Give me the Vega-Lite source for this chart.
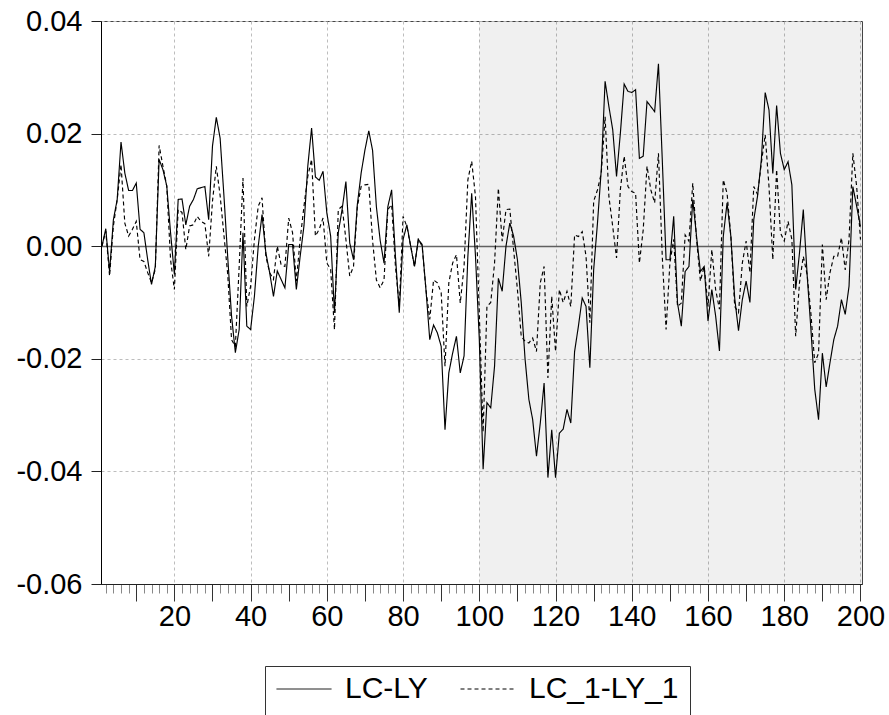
{
  "$schema": "https://vega.github.io/schema/vega-lite/v6.json",
  "width": 761,
  "height": 563,
  "autosize": {"type": "none"},
  "padding": {"left": 101, "top": 21, "right": 27, "bottom": 131},
  "background": "white",
  "config": {
    "view": {"stroke": "#444", "strokeWidth": 1},
    "font": "Liberation Sans"
  },
  "layer": [
    {
      "data": {"values": [{}]},
      "mark": {"type": "rect", "fill": "#000", "opacity": 0.06},
      "encoding": {
        "x": {
          "datum": 100, "type": "quantitative",
          "scale": {"domain": [0.75, 200.4], "nice": false, "zero": false},
          "axis": {
            "title": null,
            "values": [2,4,6,8,10,12,14,16,18,20,22,24,26,28,30,32,34,36,38,40,42,44,46,48,50,52,54,56,58,60,62,64,66,68,70,72,74,76,78,80,82,84,86,88,90,92,94,96,98,100,102,104,106,108,110,112,114,116,118,120,122,124,126,128,130,132,134,136,138,140,142,144,146,148,150,152,154,156,158,160,162,164,166,168,170,172,174,176,178,180,182,184,186,188,190,192,194,196,198,200],
            "labelExpr": "datum.value % 20 === 0 ? datum.label : ''",
            "labelFontSize": 29,
            "labelFont": "Liberation Sans",
            "labelColor": "#000",
            "labelPadding": 1,
            "labelFlush": false,
            "labelOverlap": false,
            "labelBound": false,
            "tickSize": {"condition": {"test": "datum.value % 10 === 0", "value": 17}, "value": 9},
            "tickColor": {"condition": {"test": "datum.value % 10 === 0", "value": "#333"}, "value": "#888"},
            "domainColor": "#222",
            "grid": true,
            "gridColor": "#bdbdbd",
            "gridDash": [3, 3],
            "gridOpacity": {"condition": {"test": "datum.value % 20 === 0", "value": 1}, "value": 0}
          }
        },
        "x2": {"datum": 200.4}
      }
    },
    {
      "data": {"values": [
{"t":1,"a":0.0,"b":0.0},{"t":2,"a":0.0031,"b":0.0027},{"t":3,"a":-0.0045,"b":-0.0053},{"t":4,"a":0.0047,"b":0.0036},{"t":5,"a":0.0083,"b":0.0083},
{"t":6,"a":0.0185,"b":0.0145},{"t":7,"a":0.013,"b":0.0041},{"t":8,"a":0.0099,"b":0.0018},{"t":9,"a":0.0099,"b":0.003},{"t":10,"a":0.0112,"b":0.0044},
{"t":11,"a":0.003,"b":-0.0024},{"t":12,"a":0.0024,"b":-0.0027},{"t":13,"a":-0.0024,"b":-0.0047},{"t":14,"a":-0.0068,"b":-0.0065},{"t":15,"a":-0.0036,"b":-0.0041},
{"t":16,"a":0.0154,"b":0.0179},{"t":17,"a":0.0136,"b":0.0142},{"t":18,"a":0.0107,"b":0.0107},{"t":19,"a":0.0024,"b":-0.0024},{"t":20,"a":-0.005,"b":-0.0077},
{"t":21,"a":0.0083,"b":0.0065},{"t":22,"a":0.0084,"b":0.006},{"t":23,"a":0.0038,"b":-0.0006},{"t":24,"a":0.0071,"b":0.0036},{"t":25,"a":0.0083,"b":0.0038},
{"t":26,"a":0.0102,"b":0.0053},{"t":27,"a":0.0104,"b":0.0044},{"t":28,"a":0.0106,"b":0.004},{"t":29,"a":0.0047,"b":-0.0018},{"t":30,"a":0.0178,"b":0.008},
{"t":31,"a":0.0229,"b":0.0142},{"t":32,"a":0.0192,"b":0.009},{"t":33,"a":0.009,"b":0.002},{"t":34,"a":-0.002,"b":-0.005},{"t":35,"a":-0.0124,"b":-0.0166},
{"t":36,"a":-0.0189,"b":-0.0178},{"t":37,"a":-0.0148,"b":-0.0036},{"t":38,"a":0.0024,"b":0.0121},{"t":39,"a":-0.0142,"b":-0.0107},{"t":40,"a":-0.0148,"b":-0.0071},
{"t":41,"a":-0.0089,"b":0.0012},{"t":42,"a":0.0,"b":0.0071},{"t":43,"a":0.0056,"b":0.0086},{"t":44,"a":-0.0012,"b":-0.0018},{"t":45,"a":-0.0047,"b":-0.0047},
{"t":46,"a":-0.0089,"b":-0.0059},{"t":47,"a":-0.0044,"b":0.0},{"t":48,"a":-0.0059,"b":-0.0033},{"t":49,"a":-0.0074,"b":-0.0036},{"t":50,"a":0.0003,"b":0.005},
{"t":51,"a":0.0003,"b":0.0024},{"t":52,"a":-0.0077,"b":-0.0062},{"t":53,"a":-0.0018,"b":0.0012},{"t":54,"a":0.0036,"b":0.0071},{"t":55,"a":0.0142,"b":0.0124},
{"t":56,"a":0.021,"b":0.0154},{"t":57,"a":0.0123,"b":0.0018},{"t":58,"a":0.0117,"b":0.003},{"t":59,"a":0.0133,"b":0.005},{"t":60,"a":0.0059,"b":-0.003},
{"t":61,"a":0.0018,"b":-0.0041},{"t":62,"a":-0.0118,"b":-0.0148},{"t":63,"a":0.0024,"b":0.0065},{"t":64,"a":0.0065,"b":0.0071},{"t":65,"a":0.0115,"b":0.0012},
{"t":66,"a":0.0006,"b":-0.0053},{"t":67,"a":-0.0024,"b":-0.0036},{"t":68,"a":0.0074,"b":0.007},{"t":69,"a":0.013,"b":0.0106},{"t":70,"a":0.0171,"b":0.0109},
{"t":71,"a":0.0205,"b":0.011},{"t":72,"a":0.017,"b":0.001},{"t":73,"a":0.007,"b":-0.006},{"t":74,"a":0.001,"b":-0.0074},{"t":75,"a":-0.003,"b":-0.006},
{"t":76,"a":0.007,"b":0.0065},{"t":77,"a":0.01,"b":0.0074},{"t":78,"a":-0.0018,"b":-0.0036},{"t":79,"a":-0.0118,"b":-0.0107},{"t":80,"a":0.0012,"b":0.0053},
{"t":81,"a":0.0038,"b":0.0035},{"t":82,"a":0.0,"b":0.0},{"t":83,"a":-0.0036,"b":-0.0036},{"t":84,"a":0.0012,"b":0.0012},{"t":85,"a":0.0003,"b":0.0},
{"t":86,"a":-0.0077,"b":-0.0077},{"t":87,"a":-0.0166,"b":-0.013},{"t":88,"a":-0.014,"b":-0.006},{"t":89,"a":-0.0154,"b":-0.0065},{"t":90,"a":-0.0178,"b":-0.0083},
{"t":91,"a":-0.0326,"b":-0.0213},{"t":92,"a":-0.0225,"b":-0.0065},{"t":93,"a":-0.019,"b":-0.003},{"t":94,"a":-0.016,"b":-0.0015},{"t":95,"a":-0.0225,"b":-0.0101},
{"t":96,"a":-0.0195,"b":-0.0036},{"t":97,"a":-0.0018,"b":0.0118},{"t":98,"a":0.0094,"b":0.0151},{"t":99,"a":-0.0018,"b":0.0088},{"t":100,"a":-0.0166,"b":-0.012},
{"t":101,"a":-0.0396,"b":-0.033},{"t":102,"a":-0.0278,"b":-0.0107},{"t":103,"a":-0.0287,"b":-0.01},{"t":104,"a":-0.0213,"b":-0.003},{"t":105,"a":-0.0057,"b":0.0103},
{"t":106,"a":-0.008,"b":0.0009},{"t":107,"a":0.0,"b":0.0065},{"t":108,"a":0.0041,"b":0.0066},{"t":109,"a":0.0018,"b":-0.0006},{"t":110,"a":-0.0024,"b":-0.0077},
{"t":111,"a":-0.01,"b":-0.016},{"t":112,"a":-0.02,"b":-0.0169},{"t":113,"a":-0.0272,"b":-0.0172},{"t":114,"a":-0.0308,"b":-0.0163},{"t":115,"a":-0.0373,"b":-0.0187},
{"t":116,"a":-0.0314,"b":-0.0065},{"t":117,"a":-0.0243,"b":-0.0036},{"t":118,"a":-0.0411,"b":-0.0234},{"t":119,"a":-0.0326,"b":-0.0089},{"t":120,"a":-0.0411,"b":-0.0187},
{"t":121,"a":-0.0332,"b":-0.0077},{"t":122,"a":-0.0325,"b":-0.01},{"t":123,"a":-0.029,"b":-0.008},{"t":124,"a":-0.0314,"b":-0.0107},{"t":125,"a":-0.0187,"b":0.002},
{"t":126,"a":-0.0142,"b":0.0017},{"t":127,"a":-0.0092,"b":0.0026},{"t":128,"a":-0.0107,"b":-0.0018},{"t":129,"a":-0.0216,"b":-0.0136},{"t":130,"a":-0.0042,"b":0.008},
{"t":131,"a":0.0041,"b":0.01},{"t":132,"a":0.0136,"b":0.013},{"t":133,"a":0.0293,"b":0.023},{"t":134,"a":0.0248,"b":0.0088},{"t":135,"a":0.0207,"b":0.0035},
{"t":136,"a":0.0124,"b":-0.0021},{"t":137,"a":0.02,"b":0.01},{"t":138,"a":0.0288,"b":0.016},{"t":139,"a":0.0275,"b":0.0106},{"t":140,"a":0.0273,"b":0.0097},
{"t":141,"a":0.0278,"b":0.0094},{"t":142,"a":0.0156,"b":-0.003},{"t":143,"a":0.016,"b":0.0029},{"t":144,"a":0.0257,"b":0.0142},{"t":145,"a":0.0248,"b":0.01},
{"t":146,"a":0.0239,"b":0.0077},{"t":147,"a":0.0324,"b":0.0165},{"t":148,"a":0.0154,"b":-0.0018},{"t":149,"a":-0.0024,"b":-0.0148},{"t":150,"a":-0.0024,"b":-0.003},
{"t":151,"a":0.0053,"b":0.0012},{"t":152,"a":-0.0101,"b":-0.0107},{"t":153,"a":-0.0142,"b":-0.0101},{"t":154,"a":-0.0045,"b":0.002},{"t":155,"a":-0.0036,"b":0.0009},
{"t":156,"a":0.0083,"b":0.0112},{"t":157,"a":0.0017,"b":0.0012},{"t":158,"a":-0.0045,"b":-0.0062},{"t":159,"a":-0.0036,"b":-0.0036},{"t":160,"a":-0.0133,"b":-0.0107},
{"t":161,"a":-0.0077,"b":-0.0006},{"t":162,"a":-0.0124,"b":-0.0077},{"t":163,"a":-0.0186,"b":-0.0112},{"t":164,"a":0.0017,"b":0.0118},{"t":165,"a":0.0077,"b":0.0094},
{"t":166,"a":0.0017,"b":0.0017},{"t":167,"a":-0.0092,"b":-0.0107},{"t":168,"a":-0.015,"b":-0.0118},{"t":169,"a":-0.0095,"b":-0.003},{"t":170,"a":-0.0062,"b":0.0009},
{"t":171,"a":-0.01,"b":-0.0047},{"t":172,"a":0.0047,"b":0.0106},{"t":173,"a":0.0089,"b":0.0092},{"t":174,"a":0.0154,"b":0.0148},{"t":175,"a":0.0273,"b":0.0198},
{"t":176,"a":0.0242,"b":0.0106},{"t":177,"a":0.0129,"b":-0.0024},{"t":178,"a":0.025,"b":0.0136},{"t":179,"a":0.0165,"b":0.0024},{"t":180,"a":0.0136,"b":0.0009},
{"t":181,"a":0.015,"b":0.0044},{"t":182,"a":0.0109,"b":0.0012},{"t":183,"a":-0.0077,"b":-0.016},{"t":184,"a":-0.0012,"b":-0.0065},{"t":185,"a":0.0065,"b":-0.0018},
{"t":186,"a":-0.005,"b":-0.005},{"t":187,"a":-0.0148,"b":-0.012},{"t":188,"a":-0.0254,"b":-0.0207},{"t":189,"a":-0.0308,"b":-0.019},{"t":190,"a":-0.019,"b":0.0003},
{"t":191,"a":-0.025,"b":-0.0095},{"t":192,"a":-0.0207,"b":-0.0047},{"t":193,"a":-0.0166,"b":-0.0018},{"t":194,"a":-0.0142,"b":-0.0018},{"t":195,"a":-0.0095,"b":0.0015},
{"t":196,"a":-0.0121,"b":-0.0042},{"t":197,"a":-0.0071,"b":0.0012},{"t":198,"a":0.0106,"b":0.0165},{"t":199,"a":0.0071,"b":0.0106},{"t":200,"a":0.0035,"b":0.0012}
      ]},
      "transform": [{"fold": ["a", "b"], "as": ["series", "value"]}],
      "mark": {"type": "line", "strokeWidth": 1.15, "clip": true},
      "encoding": {
        "x": {
          "field": "t", "type": "quantitative",
          "scale": {"domain": [0.75, 200.4], "nice": false, "zero": false},
          "axis": {
            "title": null,
            "values": [2,4,6,8,10,12,14,16,18,20,22,24,26,28,30,32,34,36,38,40,42,44,46,48,50,52,54,56,58,60,62,64,66,68,70,72,74,76,78,80,82,84,86,88,90,92,94,96,98,100,102,104,106,108,110,112,114,116,118,120,122,124,126,128,130,132,134,136,138,140,142,144,146,148,150,152,154,156,158,160,162,164,166,168,170,172,174,176,178,180,182,184,186,188,190,192,194,196,198,200],
            "labelExpr": "datum.value % 20 === 0 ? datum.label : ''",
            "labelFontSize": 29,
            "labelFont": "Liberation Sans",
            "labelColor": "#000",
            "labelPadding": 1,
            "labelFlush": false,
            "labelOverlap": false,
            "labelBound": false,
            "tickSize": {"condition": {"test": "datum.value % 10 === 0", "value": 17}, "value": 9},
            "tickColor": {"condition": {"test": "datum.value % 10 === 0", "value": "#333"}, "value": "#888"},
            "domainColor": "#222",
            "grid": true,
            "gridColor": "#bdbdbd",
            "gridDash": [3, 3],
            "gridOpacity": {"condition": {"test": "datum.value % 20 === 0", "value": 1}, "value": 0}
          }
        },
        "y": {
          "field": "value", "type": "quantitative",
          "scale": {"domain": [-0.06, 0.04], "nice": false, "zero": false},
          "axis": {
            "title": null,
            "values": [-0.06, -0.04, -0.02, 0, 0.02, 0.04],
            "labelExpr": "(datum.value < -0.000001 ? '-' : '') + format(abs(datum.value), '.2f')",
            "labelFontSize": 29,
            "labelFont": "Liberation Sans",
            "labelColor": "#000",
            "labelPadding": 9,
            "tickSize": 10,
            "tickColor": "#222",
            "domainColor": "#000",
            "grid": true,
            "gridColor": {"condition": {"test": "abs(datum.value) < 0.000001", "value": "#666"}, "value": "#bdbdbd"},
            "gridDash": {"condition": {"test": "abs(datum.value) < 0.000001", "value": [1, 0]}, "value": [3, 3]},
            "gridWidth": {"condition": {"test": "abs(datum.value) < 0.000001", "value": 1.3}, "value": 1}
          }
        },
        "color": {
          "field": "series", "type": "nominal",
          "scale": {"domain": ["a", "b"], "range": ["#000", "#000"]},
          "legend": {
            "title": null,
            "orient": "none",
            "legendX": 164,
            "legendY": 645,
            "direction": "horizontal",
            "labelExpr": "datum.label === 'a' ? 'LC-LY' : 'LC_1-LY_1'",
            "labelFontSize": 30,
            "labelFont": "Liberation Sans",
            "labelColor": "#000",
            "labelOffset": 13,
            "symbolType": "stroke",
            "symbolSize": 3025,
            "symbolStrokeWidth": 1,
            "clipHeight": 24,
            "columnPadding": 32,
            "padding": 11,
            "strokeColor": "#333",
            "fillColor": "#fff"
          }
        },
        "strokeDash": {
          "field": "series", "type": "nominal",
          "scale": {"domain": ["a", "b"], "range": [[1, 0], [4, 3]]},
          "legend": null
        }
      }
    }
  ]
}
